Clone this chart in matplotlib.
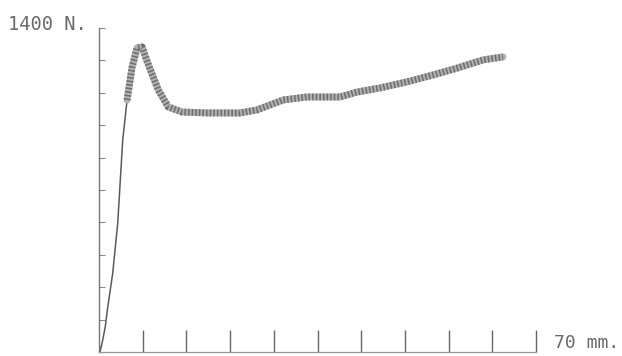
import matplotlib
matplotlib.use("Agg")
import matplotlib.pyplot as plt

# Displacement (mm) and force (N)
disp_rise = [0.0, 0.16, 0.5, 1.0, 1.4, 2.2, 3.0, 3.8, 4.5]
force_rise = [40, 0, 39, 108, 194, 341, 557, 916, 1089]

disp_band = [4.5, 5.3, 6.1, 6.9, 7.8, 9.5, 11.1, 13.3, 17.3, 22.6, 25.3, 29.5,
             33.3, 38.6, 41.3, 45.0, 49.3, 53.5, 57.4, 61.5, 64.7]
force_band = [1089, 1231, 1314, 1318, 1249, 1132, 1059, 1037, 1033, 1033, 1046, 1089,
              1102, 1102, 1123, 1141, 1167, 1197, 1227, 1262, 1275]

y_ticks = [0, 140, 280, 420, 560, 700, 840, 980, 1120, 1260, 1400]
x_ticks = [7, 14, 21, 28, 35, 42, 49, 56, 63, 70]

fig = plt.figure(figsize=(6.22, 3.56), dpi=100)
ax = fig.add_axes([99 / 622, 4 / 356, 437 / 622, 324 / 356])

ax.plot(disp_rise, force_rise, color="#5a5a5a", lw=1.1, solid_joinstyle="round")
ax.plot(disp_band, force_band, color="#b0b0b0", lw=5, solid_joinstyle="round",
        solid_capstyle="round")
ax.plot(disp_band, force_band, color="#6e6e6e", lw=5, dashes=(0.22, 0.3))

ax.set_xlim(0, 70)
ax.set_ylim(0, 1400)
ax.set_xticks(x_ticks)
ax.set_yticks(y_ticks)
ax.set_xticklabels([])
ax.set_yticklabels([])
ax.tick_params(axis="x", direction="in", length=16, width=1, color="#666666")
ax.tick_params(axis="y", direction="in", length=4, width=0.8, color="#888888")

for s in ["top", "right"]:
    ax.spines[s].set_visible(False)
ax.spines["left"].set_color("#777777")
ax.spines["left"].set_linewidth(1.0)
ax.spines["bottom"].set_color("#999999")
ax.spines["bottom"].set_linewidth(0.9)
ax.spines["bottom"].set_linestyle((0, (2, 1)))

fig.text(8 / 622, 1 - 24 / 356, "1400 N.", fontsize=13.5, family="DejaVu Sans Mono",
         color="#6a6a6a", va="center", ha="left")
fig.text(554 / 622, 1 - 343 / 356, "70 mm.", fontsize=13, family="DejaVu Sans Mono",
         color="#6a6a6a", va="center", ha="left")

fig.savefig("out.png", dpi=100, facecolor="white")
